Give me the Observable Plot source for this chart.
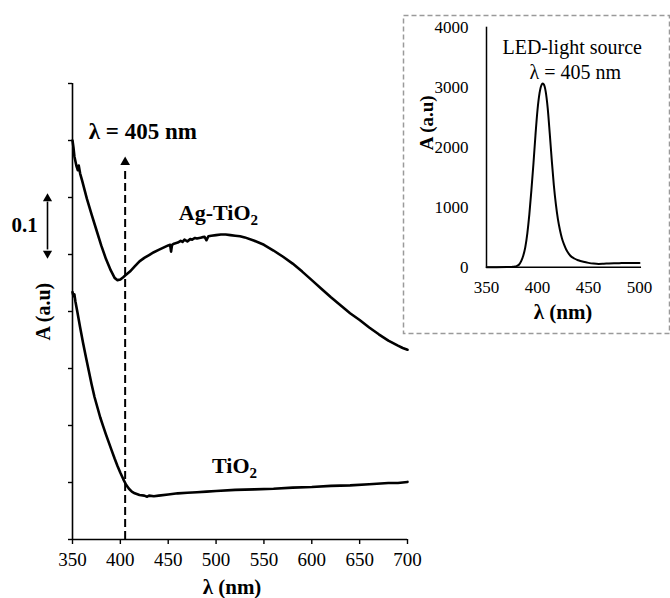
<!DOCTYPE html>
<html>
<head>
<meta charset="utf-8">
<script src="https://cdn.jsdelivr.net/npm/d3@7"></script>
<script src="https://cdn.jsdelivr.net/npm/@observablehq/plot@0.6"></script>
<style>
  html, body { margin: 0; padding: 0; background: #fff; }
  #wrap { position: relative; width: 670px; height: 598px; overflow: hidden; background: #fff; }
  #wrap svg { position: absolute; background: transparent; font-family: 'Liberation Serif', 'Times New Roman', Times, serif; }
  #wrap svg text { font-family: 'Liberation Serif', 'Times New Roman', Times, serif; }
</style>
</head>
<body>
<div id="wrap"></div>
<script>
// ---------- Main chart data ----------
const xTicksMain = [350, 400, 450, 500, 550, 600, 650, 700];
const yTicksMain = [0, 0.1, 0.2, 0.3, 0.4, 0.5, 0.6, 0.7, 0.8];

const agWl = [350,351,352,354,355.5,356.5,358,360,365,370,375,380,385,390,394,397,400,403,405,410,415,420,425,430,435,440,445,450,452,453,454,456,460,463,465,467,470,473,475,478,480,485,488,490,492,495,500,505,510,515,520,525,530,540,550,560,570,580,590,600,610,620,630,635,640,650,660,670,680,690,695,700];
const agAbs = [0.700,0.688,0.672,0.656,0.648,0.656,0.642,0.630,0.598,0.570,0.543,0.516,0.492,0.472,0.459,0.455,0.456,0.460,0.463,0.470,0.479,0.488,0.494,0.499,0.504,0.508,0.512,0.516,0.517,0.505,0.517,0.519,0.521,0.524,0.522,0.526,0.523,0.527,0.526,0.529,0.528,0.530,0.531,0.525,0.532,0.533,0.534,0.535,0.535,0.534,0.533,0.532,0.530,0.524,0.517,0.507,0.496,0.484,0.470,0.455,0.440,0.425,0.411,0.404,0.397,0.385,0.372,0.360,0.349,0.340,0.336,0.333];

const tiWl = [350,351,352,353,355,358,361,364,367,370,373,376,379,382,385,388,391,394,397,400,403,406,409,412,415,420,425,428,430,435,440,450,460,470,480,490,500,520,540,560,580,600,620,640,660,680,690,700];
const tiAbs = [0.434,0.427,0.430,0.418,0.400,0.372,0.345,0.320,0.296,0.272,0.250,0.232,0.214,0.199,0.184,0.170,0.156,0.142,0.129,0.117,0.106,0.096,0.089,0.084,0.081,0.078,0.077,0.075,0.077,0.076,0.077,0.079,0.081,0.082,0.083,0.084,0.085,0.087,0.088,0.089,0.091,0.092,0.094,0.095,0.097,0.099,0.099,0.101];

// annotation values (data coordinates)
const laserLine = [{x: 405, y1: 0, y2: 0.652, head: 0.662}];
const scaleBar = [{x: 350, y1: 0.508, y2: 0.592, top: 0.598, bottom: 0.502, label: "0.1", labelY: 0.539}];
const mainLabels = [
  {text: "λ = 405 nm", x: 367, y: 0.703},
];
const subLabels = [
  {base: "Ag-TiO", sub: "2", x: 536, y: 0.561},
  {base: "TiO", sub: "2", x: 535, y: 0.116}
];

// ---------- Inset data ----------
const xTicksInset = [350, 400, 450, 500];
const yTicksInset = [0, 1000, 2000, 3000, 4000];
const ledWl = [350,360,370,375,378,380,382,384,386,388,390,392,394,396,398,400,402,404,405,406,407,408,410,412,414,416,418,420,422,424,426,428,430,432,436,440,445,450,455,460,465,470,475,480,490,500];
const ledInt = [0,0,2,5,10,22,45,100,190,330,560,880,1280,1720,2200,2620,2900,3040,3060,3050,3010,2930,2650,2230,1780,1370,1050,800,620,480,380,300,240,195,145,115,90,72,60,55,58,62,65,67,70,70];
const insetLabels = [
  {text: "LED-light source", x: 434, y: 3660},
  {text: "λ = 405 nm", x: 437, y: 3245}
];

const serif = "'Liberation Serif', 'Times New Roman', Times, serif";
const toPts = (xs, ys) => xs.map((x, i) => ({x, y: ys[i]}));
const agData = toPts(agWl, agAbs);
const tiData = toPts(tiWl, tiAbs);
const ledData = toPts(ledWl, ledInt);

// ---------- Main plot ----------
const main = Plot.plot({
  width: 420,
  height: 598,
  marginLeft: 72,
  marginRight: 13,
  marginTop: 83,
  marginBottom: 59,
  style: {fontFamily: serif, fontSize: "19px", color: "#000", background: "transparent", overflow: "visible"},
  x: {domain: [350, 700]},
  y: {domain: [0, 0.8]},
  marks: [
    Plot.axisX({ticks: xTicksMain, tickSize: 5, tickPadding: 8, label: null, fontSize: 19, fontFamily: serif, strokeWidth: 1.4, tickFormat: d => String(d)}),
    Plot.axisY({ticks: yTicksMain, tickSize: 4, tickFormat: () => "", label: null, strokeWidth: 1.4}),
    Plot.ruleX([350], {y1: 0, y2: 0.8, stroke: "#000", strokeWidth: 1.6}),
    Plot.ruleY([0], {x1: 350, x2: 700, stroke: "#000", strokeWidth: 1.6}),
    // laser wavelength line
    Plot.ruleX(laserLine, {x: "x", y1: "y1", y2: "y2", stroke: "#000", strokeWidth: 2, strokeDasharray: "8,4"}),
    Plot.dot(laserLine, {x: "x", y: "head", symbol: "triangle", r: 3.6, fill: "#000", stroke: "none"}),
    // curves
    Plot.line(agData, {x: "x", y: "y", stroke: "#000", strokeWidth: 2.6, curve: "linear"}),
    Plot.line(tiData, {x: "x", y: "y", stroke: "#000", strokeWidth: 2.6, curve: "linear"}),
    // 0.1 scale bar
    Plot.ruleX(scaleBar, {x: "x", y1: "y1", y2: "y2", dx: -25, stroke: "#000", strokeWidth: 1.6}),
    Plot.dot(scaleBar, {x: "x", y: "top", dx: -25, symbol: "triangle", r: 3.4, fill: "#000", stroke: "none"}),
    Plot.dot(scaleBar, {x: "x", y: "bottom", dx: -25, symbol: "triangle", rotate: 180, r: 3.4, fill: "#000", stroke: "none"}),
    Plot.text(scaleBar, {x: "x", y: "labelY", text: "label", dx: -48, textAnchor: "middle", lineAnchor: "bottom", fontSize: 21, fontFamily: serif, fontWeight: "bold", fill: "#000"}),
    // labels
    Plot.text(mainLabels, {x: "x", y: "y", text: "text", textAnchor: "start", lineAnchor: "bottom", fontSize: 23, fontFamily: serif, fontWeight: "bold", fill: "#000"}),
    Plot.text(subLabels, {x: "x", y: "y", text: "base", textAnchor: "end", lineAnchor: "bottom", fontSize: 22, fontFamily: serif, fontWeight: "bold", fill: "#000"}),
    Plot.text(subLabels, {x: "x", y: "y", text: "sub", textAnchor: "start", lineAnchor: "bottom", dy: 5, fontSize: 15, fontFamily: serif, fontWeight: "bold", fill: "#000"}),
    // axis titles
    Plot.text(["λ (nm)"], {frameAnchor: "bottom", text: d => d, dx: -8, dy: 48, lineAnchor: "middle", fontSize: 21, fontFamily: serif, fontWeight: "bold", fill: "#000"}),
    Plot.text(["A (a.u)"], {frameAnchor: "left", text: d => d, dx: -29, dy: 29, rotate: -90, lineAnchor: "middle", fontSize: 20, fontFamily: serif, fontWeight: "bold", fill: "#000"})
  ]
});
main.style.left = "0px";
main.style.top = "0px";
document.getElementById("wrap").appendChild(main);

// ---------- Inset plot ----------
const inset = Plot.plot({
  width: 270,
  height: 324,
  marginLeft: 86,
  marginRight: 31,
  marginTop: 14.7,
  marginBottom: 69.3,
  style: {fontFamily: serif, fontSize: "17px", color: "#000", background: "transparent", overflow: "visible"},
  x: {domain: [350, 500]},
  y: {domain: [0, 4000]},
  marks: [
    Plot.frame({stroke: "#9a9a9a", strokeWidth: 1.5, strokeDasharray: "5,3", insetLeft: -83, insetTop: -11.7, insetRight: -30, insetBottom: -66.3}),
    Plot.axisX({ticks: xTicksInset, tickSize: 0, tickPadding: 14, label: null, fontSize: 17, fontFamily: serif, tickFormat: d => String(d)}),
    Plot.axisY({ticks: yTicksInset, tickSize: 0, tickPadding: 18, label: null, fontSize: 17, fontFamily: serif, tickFormat: d => String(d)}),
    Plot.ruleX([350], {y1: 0, y2: 4000, stroke: "#000", strokeWidth: 1.5}),
    Plot.ruleY([0], {x1: 350, x2: 502, stroke: "#000", strokeWidth: 1.5}),
    Plot.line(ledData, {x: "x", y: "y", stroke: "#000", strokeWidth: 2, curve: "monotone-x"}),
    Plot.text(insetLabels, {x: "x", y: "y", text: "text", textAnchor: "middle", lineAnchor: "middle", fontSize: 20, fontFamily: serif, fill: "#000"}),
    Plot.text(["λ (nm)"], {frameAnchor: "bottom", text: d => d, dy: 45, lineAnchor: "middle", fontSize: 21, fontFamily: serif, fontWeight: "bold", fill: "#000"}),
    Plot.text(["A (a.u)"], {frameAnchor: "left", text: d => d, dx: -60, dy: 3, rotate: -90, lineAnchor: "middle", fontSize: 19, fontFamily: serif, fontWeight: "bold", fill: "#000"})
  ]
});
inset.style.left = "400px";
inset.style.top = "12px";
document.getElementById("wrap").appendChild(inset);
</script>
</body>
</html>
